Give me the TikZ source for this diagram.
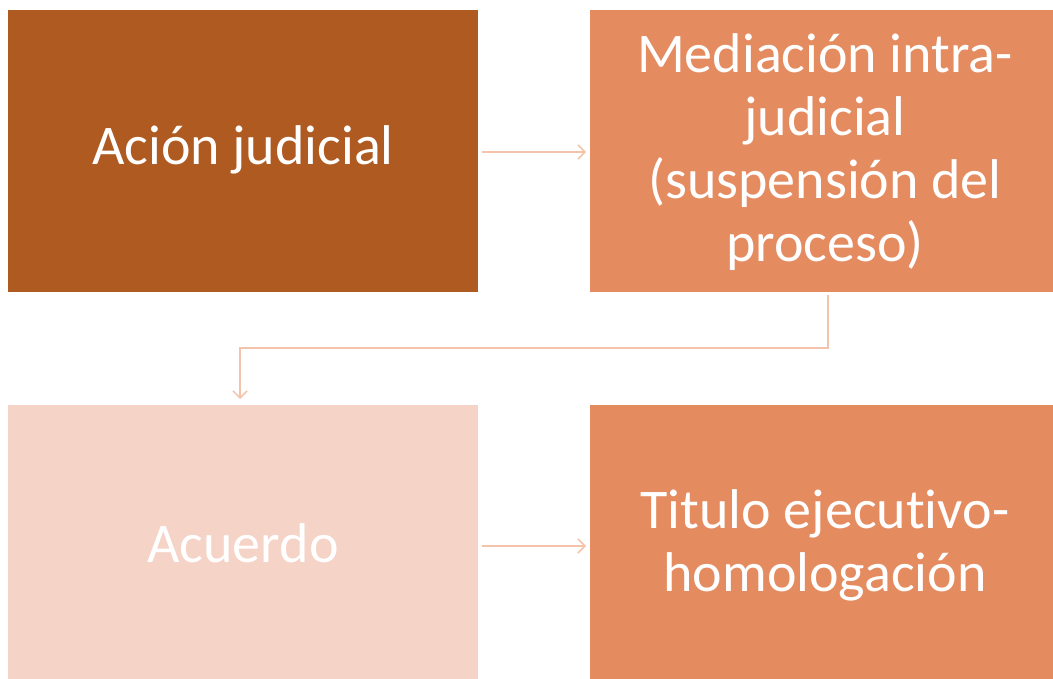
\documentclass[tikz,border=0pt]{standalone}
\usepackage{fontspec}
\setmainfont{Carlito}[Ligatures=NoCommon]
\usetikzlibrary{arrows.meta}
\definecolor{darkor}{HTML}{AE5A21}
\definecolor{midor}{HTML}{E58B60}
\definecolor{lightor}{HTML}{F6D3C7}
\definecolor{arrowc}{HTML}{F3C3AC}
\begin{document}
\begin{tikzpicture}[x=1pt,y=1pt,
  boxst/.style={draw=none,inner sep=0pt,text=white,align=center,
    font=\fontsize{56}{63}\selectfont},
  conn/.style={draw=arrowc,line width=1.5pt,-{Straight Barb[length=7pt,width=14pt]}}]
\useasboundingbox (0,0) rectangle (1053,-679);
\fill[white] (0,0) rectangle (1053,-679);
\fill[darkor] (8,-10) rectangle (478,-292);
\fill[midor] (590,-10) rectangle (1053,-292);
\fill[lightor] (8,-405) rectangle (478,-679);
\fill[midor] (590,-405) rectangle (1053,-679);
\node[boxst] (a) at (243,-150) {Ación judicial};
\node[boxst] (b) at (825,-152) {Mediación intra-\\judicial\\(suspensión del\\proceso)};
\node[boxst] (c) at (243,-543) {Acuerdo};
\node[boxst] (d) at (825,-545) {Titulo ejecutivo-\\homologación};
\coordinate (a1) at (482,-152);
\coordinate (b1) at (586,-152);
\coordinate (b2) at (828,-295);
\coordinate (c1) at (240,-399);
\coordinate (c2) at (482,-546);
\coordinate (d1) at (586,-546);
\draw[conn] (a1) -- (b1);
\draw[conn] (b2) -- (828,-348) -- (240,-348) -- (c1);
\draw[conn] (c2) -- (d1);
\end{tikzpicture}
\end{document}
